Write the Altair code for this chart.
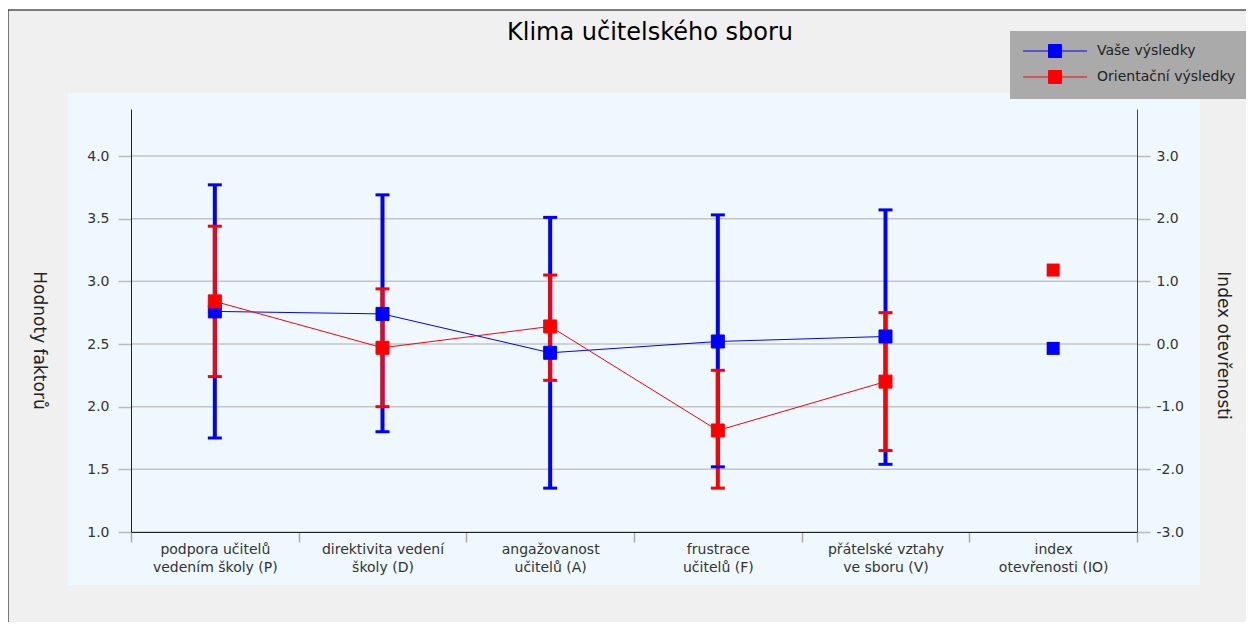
import altair as alt
import pandas as pd

# ---------------- data ----------------
categories = [
    "podpora učitelů\nvedením školy (P)",
    "direktivita vedení\nškoly (D)",
    "angažovanost\nučitelů (A)",
    "frustrace\nučitelů (F)",
    "přátelské vztahy\nve sboru (V)",
    "index\notevřenosti (IO)",
]
series = ["Vaše výsledky", "Orientační výsledky"]
colors = ["#0000ff", "#ff0000"]

factor_cats = categories[:5]
vase_value = [2.76, 2.74, 2.43, 2.52, 2.56]
vase_low = [1.75, 1.80, 1.35, 1.52, 1.54]
vase_high = [3.77, 3.69, 3.51, 3.53, 3.57]
orient_value = [2.84, 2.47, 2.64, 1.81, 2.20]
orient_low = [2.24, 2.00, 2.21, 1.35, 1.65]
orient_high = [3.44, 2.94, 3.05, 2.29, 2.75]

io_cat = categories[5]
io_values = [-0.07, 1.18]  # Vaše, Orientační (right axis)

left_ticks = [1.0, 1.5, 2.0, 2.5, 3.0, 3.5, 4.0]
right_ticks = [-3.0, -2.0, -1.0, 0.0, 1.0, 2.0, 3.0]
left_domain = [1.0, 4.375]
right_domain = [-3.0, 3.75]

# ---------------- tables ----------------
rows = []
for s, clr, vals, lows, highs in [
    (series[0], colors[0], vase_value, vase_low, vase_high),
    (series[1], colors[1], orient_value, orient_low, orient_high),
]:
    for c, v, lo, hi in zip(factor_cats, vals, lows, highs):
        rows.append({"category": c, "series": s, "clr": clr, "value": v, "lo": lo, "hi": hi})
df = pd.DataFrame(rows)
df_io = pd.DataFrame({"category": [io_cat, io_cat], "series": series, "clr": colors, "value": io_values})
df_grid = pd.DataFrame({"g": left_ticks})
df_one = pd.DataFrame({"a": [0]})

FONT = "DejaVu Sans"

xenc = alt.X(
    "category:N",
    sort=categories,
    scale=alt.Scale(type="band", domain=categories, paddingInner=0, paddingOuter=0),
    axis=alt.Axis(
        orient="bottom", title=None, labelAngle=0, tickBand="extent",
        tickSize=10, tickColor="#aaaaaa", tickWidth=1.5,
        domainColor="#222222", domainWidth=1,
        labelFont=FONT, labelFontSize=14, labelColor="#333333",
        labelPadding=0, labelLineHeight=18, labelOverlap=False, labelLimit=0,
        labelExpr="split(datum.label, '\\n')", zindex=1,
    ),
)

yscale_left = alt.Scale(domain=left_domain, nice=False, zero=False)
yscale_right = alt.Scale(domain=right_domain, nice=False, zero=False)

left_axis = alt.Axis(
    orient="left", values=left_ticks, format=".1f", grid=False, zindex=1,
    title="Hodnoty faktorů", titleFont=FONT, titleFontSize=17, titleFontWeight="normal",
    titleColor="#222222", titleAngle=90, titleX=-93, titleY=231,
    titleAlign="center", titleBaseline="middle",
    domainColor="#222222", tickColor="#bbbbbb", tickSize=13, tickWidth=1.5,
    labelFont=FONT, labelFontSize=14, labelColor="#333333", labelPadding=9,
)
right_axis = alt.Axis(
    orient="right", values=right_ticks, grid=False, zindex=1,
    labelExpr="(datum.value < 0 ? '-' : '') + format(abs(datum.value), '.1f')",
    title="Index otevřenosti", titleFont=FONT, titleFontSize=17, titleFontWeight="normal",
    titleColor="#222222", titleAngle=90, titleX=85, titleY=236,
    titleAlign="center", titleBaseline="middle",
    domainColor="#444444", tickColor="#bbbbbb", tickSize=13, tickWidth=1.5,
    labelFont=FONT, labelFontSize=14, labelColor="#333333", labelPadding=6,
)

color_enc = alt.Color("clr:N", scale=None)

legend_path = "M-1.08,0H2.85M4.85,0H8.77M2.85,-1H4.85V1H2.85Z"
legend_def = alt.Legend(
    title=None, orient="none", legendX=879, legendY=-78, zindex=2,
    fillColor="#aaaaaa", padding=13, symbolType=legend_path, symbolSize=169,
    symbolStrokeWidth=1, labelFont=FONT, labelFontSize=14, labelColor="#222222",
    labelOffset=60, rowPadding=8,
)

# ---------------- decorations ----------------
frame_rect = alt.Chart(df_one).mark_rect(fill="#f0f0f0", stroke="#000000", strokeWidth=1).encode(
    x=alt.value(-123), x2=alt.value(1400), y=alt.value(-99), y2=alt.value(700)
)
plot_bg = alt.Chart(df_one).mark_rect(fill="#f0f8ff").encode(
    x=alt.value(-63), x2=alt.value(1069), y=alt.value(-16), y2=alt.value(476)
)

# ---------------- left-scale layers ----------------
grid = alt.Chart(df_grid).mark_rule(color="#c4c4c4", strokeWidth=1.5).encode(
    y=alt.Y("g:Q", scale=yscale_left, axis=left_axis)
)
bars = alt.Chart(df).mark_rule(strokeWidth=4).encode(
    x=xenc, y=alt.Y("lo:Q", scale=yscale_left, axis=None), y2="hi:Q", color=color_enc
)
caps_lo = alt.Chart(df).mark_tick(size=14, thickness=3, opacity=1).encode(
    x=xenc, y=alt.Y("lo:Q", scale=yscale_left, axis=None), color=color_enc
)
caps_hi = alt.Chart(df).mark_tick(size=14, thickness=3, opacity=1).encode(
    x=xenc, y=alt.Y("hi:Q", scale=yscale_left, axis=None), color=color_enc
)
lines = alt.Chart(df).mark_line(strokeWidth=1).encode(
    x=xenc, y=alt.Y("value:Q", scale=yscale_left, axis=None), color=color_enc,
    detail="series:N",
)
squares = alt.Chart(df).mark_point(shape="square", size=169, filled=True, opacity=1, strokeWidth=1).encode(
    x=xenc, y=alt.Y("value:Q", scale=yscale_left, axis=None),
    fill=alt.Fill("series:N", scale=alt.Scale(domain=series, range=colors), legend=legend_def),
    stroke=alt.Stroke("series:N", scale=alt.Scale(domain=series, range=colors), legend=legend_def),
)

# ---------------- right-scale layer ----------------
io_points = alt.Chart(df_io).mark_square(size=169, opacity=1).encode(
    x=xenc, y=alt.Y("value:Q", scale=yscale_right, axis=right_axis), color=color_enc
)

chart = alt.layer(
    frame_rect, plot_bg, grid, bars, caps_lo, caps_hi, lines, squares, io_points
).resolve_scale(
    y="independent"
).properties(
    width=1006, height=423,
    autosize=alt.AutoSizeParams(type="none"),
    padding={"left": 123, "top": 101, "right": 109, "bottom": 90},
    title=alt.TitleParams(
        text="Klima učitelského sboru", font=FONT, fontSize=24, fontWeight="normal",
        color="#000000", anchor="middle", frame="group", dx=16, offset=-35,
    ),
).configure(background="#ffffff").configure_view(stroke=None)

chart.save("out.html", embed_options={"renderer": "svg", "actions": False})
